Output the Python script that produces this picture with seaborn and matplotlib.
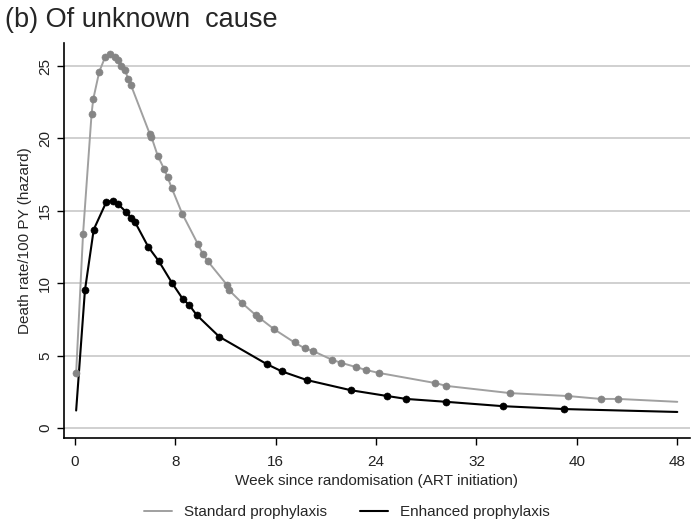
import seaborn as sns
import matplotlib.pyplot as plt
import pandas as pd

# Standard prophylaxis (grey): marker points
std_wk = [0.1, 0.65, 1.33, 1.46, 1.94, 2.4, 2.8, 3.2, 3.45, 3.7, 4.0, 4.25, 4.46,
          5.97, 6.1, 6.6, 7.1, 7.4, 7.7, 8.55, 9.8, 10.2, 10.6, 12.1, 12.3, 13.35,
          14.4, 14.7, 15.9, 17.5, 18.3, 19.0, 20.5, 21.2, 22.4, 23.2, 24.2, 28.7,
          29.6, 34.7, 39.3, 41.9, 43.3]
std_val = [3.8, 13.4, 21.7, 22.7, 24.6, 25.6, 25.8, 25.6, 25.4, 25.0, 24.7, 24.1, 23.7,
           20.3, 20.1, 18.8, 17.9, 17.3, 16.6, 14.8, 12.7, 12.0, 11.5, 9.9, 9.5, 8.6,
           7.8, 7.6, 6.8, 5.9, 5.5, 5.3, 4.7, 4.5, 4.2, 4.0, 3.8, 3.1,
           2.9, 2.4, 2.2, 2.0, 2.0]
std_end_wk = [48.0]
std_end_val = [1.8]

# Enhanced prophylaxis (black)
enh_wk = [0.8, 1.5, 2.5, 3.05, 3.45, 4.1, 4.5, 4.8, 5.85, 6.7, 7.75, 8.6, 9.1, 9.7,
          11.5, 15.3, 16.5, 18.5, 22.0, 24.9, 26.4, 29.6, 34.1, 39.0]
enh_val = [9.5, 13.7, 15.6, 15.7, 15.45, 14.9, 14.5, 14.2, 12.5, 11.5, 10.0, 8.9, 8.5, 7.8,
           6.3, 4.4, 3.9, 3.3, 2.6, 2.2, 2.0, 1.8, 1.5, 1.3]
enh_start_wk = [0.1]
enh_start_val = [1.2]
enh_end_wk = [48.0]
enh_end_val = [1.1]

x_ticks = [0, 8, 16, 24, 32, 40, 48]
y_ticks = [0, 5, 10, 15, 20, 25]

std_df = pd.DataFrame({"week": std_wk + std_end_wk, "rate": std_val + std_end_val})
enh_df = pd.DataFrame({"week": enh_start_wk + enh_wk + enh_end_wk,
                       "rate": enh_start_val + enh_val + enh_end_val})

sns.set_style("white")
plt.rcParams["font.family"] = ["Liberation Sans", "DejaVu Sans"]

fig = plt.figure(figsize=(6.94, 5.29), dpi=100)
ax = fig.add_axes([0.092, 0.172, 0.902, 0.747])

grey_line = "#a0a0a0"
grey_mark = "#858585"

sns.lineplot(data=std_df, x="week", y="rate", color=grey_line, lw=1.4,
             estimator=None, ax=ax, label="Standard prophylaxis")
sns.lineplot(data=enh_df, x="week", y="rate", color="black", lw=1.5,
             estimator=None, ax=ax, label="Enhanced prophylaxis")
sns.scatterplot(x=std_wk, y=std_val, color=grey_mark, marker="o", s=26,
                edgecolor=grey_mark, ax=ax, legend=False, zorder=3)
sns.scatterplot(x=enh_wk, y=enh_val, color="black", marker="o", s=26,
                edgecolor="black", ax=ax, legend=False, zorder=3)

ax.set_xlim(-0.88, 49.0)
ax.set_ylim(-0.7, 26.6)
ax.set_xticks(x_ticks)
ax.set_yticks(y_ticks)
ax.set_yticklabels([str(v) for v in y_ticks], rotation=90, va="center")
ax.tick_params(axis="both", direction="out", length=5, width=1, color="black",
               labelsize=11, labelcolor="#222222", left=True, bottom=True)
ax.tick_params(axis="x", pad=7.5)
ax.yaxis.grid(True, color="#c8c8c8", lw=1.2)
ax.set_axisbelow(True)
sns.despine(ax=ax)
for s in ["left", "bottom"]:
    ax.spines[s].set_color("black")
    ax.spines[s].set_linewidth(1.2)

ax.set_xlabel("Week since randomisation (ART initiation)", fontsize=11, labelpad=3)
ax.set_ylabel("Death rate/100 PY (hazard)", fontsize=11, labelpad=4)

ax.get_legend().remove()
handles, labels = ax.get_legend_handles_labels()
fig.legend(handles, labels, loc="center", bbox_to_anchor=(0.5, 0.032), ncol=2,
           frameon=False, fontsize=11, handlelength=1.8, columnspacing=2.2)

fig.text(0.007, 0.962, "(b) Of unknown  cause", fontsize=19.5, va="center", ha="left")

fig.savefig("out.png", dpi=100)
